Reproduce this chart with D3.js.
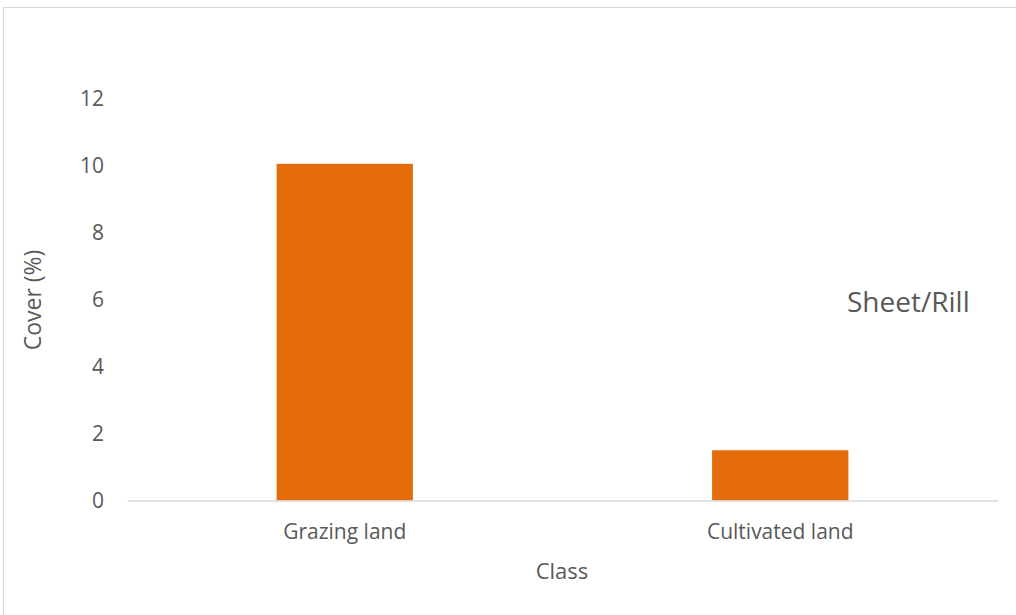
<!DOCTYPE html>
<html>
<head>
<meta charset="utf-8">
<script src="https://cdn.jsdelivr.net/npm/d3@7"></script>
<style>
  html, body { margin: 0; padding: 0; background: #fff; }
  svg { display: block; }
  text { font-family: "Open Sans", "Noto Sans", sans-serif; fill: #595959; }
</style>
</head>
<body>
<svg id="chart" width="1016" height="615"></svg>
<script>
// Cover of sheet/rill erosion by land-use class
const categories = ["Grazing land", "Cultivated land"];
const cover = [10.05, 1.5];
const yTicks = [0, 2, 4, 6, 8, 10, 12];

const svg = d3.select("#chart");
const W = 1016, H = 615;

// chart border (runs past the right and bottom edges)
svg.append("rect")
  .attr("x", 3.5).attr("y", 7.5)
  .attr("width", W + 10).attr("height", H + 10)
  .attr("fill", "#fff").attr("stroke", "#d9d9d9").attr("stroke-width", 1);

const plot = { left: 127, right: 998, top: 98.5, bottom: 500.5 };

const x = d3.scaleBand()
  .domain(categories)
  .range([plot.left, plot.right])
  .paddingInner(0.687)
  .paddingOuter(0.3435);

const y = d3.scaleLinear()
  .domain([0, 12])
  .range([plot.bottom, plot.top]);

// y tick labels (no axis line, no gridlines)
const yAxis = d3.axisLeft(y).tickValues(yTicks).tickSize(0).tickPadding(0);
const gy = svg.append("g")
  .attr("transform", `translate(${104},0)`)
  .call(yAxis);
gy.select(".domain").remove();
gy.selectAll("text")
  .style("font-size", "21px")
  .attr("fill", "#595959")
  .attr("dy", "0.34em");

// bars
svg.append("g").selectAll("rect")
  .data(categories)
  .join("rect")
  .attr("x", d => x(d))
  .attr("width", x.bandwidth())
  .attr("y", (d, i) => y(cover[i]))
  .attr("height", (d, i) => y(0) - y(cover[i]))
  .attr("fill", "#e46c0a");

// category axis
const xAxis = d3.axisBottom(x).tickSize(0).tickPadding(0);
const gx = svg.append("g")
  .attr("transform", `translate(0,${plot.bottom})`)
  .call(xAxis);
gx.select(".domain")
  .attr("stroke", "#d9d9d9")
  .attr("stroke-width", 1.5);
gx.selectAll("text")
  .style("font-size", "21px")
  .attr("fill", "#595959")
  .attr("y", 31)
  .attr("dy", "0.34em");

// axis titles
svg.append("text")
  .attr("x", 562).attr("y", 572)
  .attr("dy", "0.34em")
  .attr("text-anchor", "middle")
  .style("font-size", "22px")
  .text("Class");

svg.append("text")
  .attr("transform", "translate(33,300) rotate(-90)")
  .attr("dy", "0.34em")
  .attr("text-anchor", "middle")
  .style("font-size", "23px")
  .text("Cover (%)");

// series label
svg.append("text")
  .attr("x", 847).attr("y", 302)
  .attr("dy", "0.34em")
  .style("font-size", "28px")
  .text("Sheet/Rill");
</script>
</body>
</html>
